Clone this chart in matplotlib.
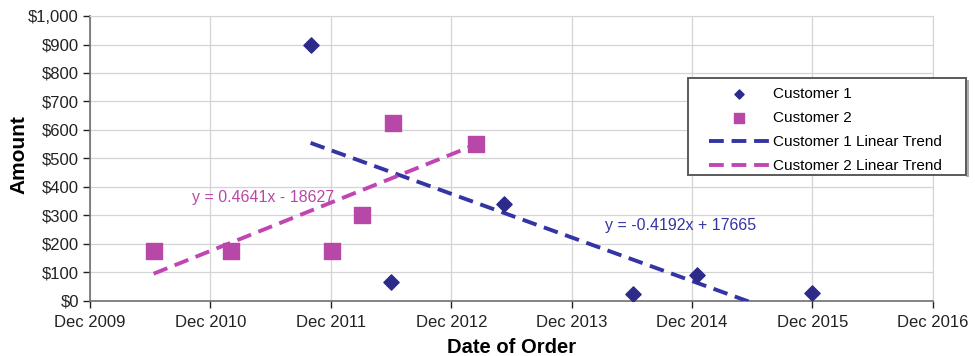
import datetime as dt
import matplotlib
matplotlib.use("Agg")
import matplotlib.pyplot as plt
import matplotlib.dates as mdates
from matplotlib.ticker import FuncFormatter
from matplotlib.patches import Rectangle

plt.rcParams['font.family'] = ['Liberation Sans', 'DejaVu Sans']

# Order dates and amounts
c1_dates = ["2011-10-01", "2012-06-01", "2013-05-10", "2014-06-05", "2014-12-15", "2015-12-01"]
c1_amounts = [900, 65, 340, 25, 90, 28]
c2_dates = ["2010-06-12", "2011-02-01", "2011-12-05", "2012-03-05", "2012-06-08", "2013-02-15"]
c2_amounts = [175, 175, 175, 300, 625, 550]

# Linear trend coefficients (x = spreadsheet date serial)
c1_slope, c1_intercept = -0.4192, 17665
c2_slope, c2_intercept = 0.4641, -18627

tick_years = [2009, 2010, 2011, 2012, 2013, 2014, 2015, 2016]
y_ticks = [0, 100, 200, 300, 400, 500, 600, 700, 800, 900, 1000]

EXCEL_OFFSET = 25569  # days between 1899-12-30 and 1970-01-01


def to_num(s):
    return mdates.date2num(dt.datetime.strptime(s, "%Y-%m-%d"))


c1_x = [to_num(d) for d in c1_dates]
c2_x = [to_num(d) for d in c2_dates]


def trend(xs, slope, intercept):
    return [slope * (x + EXCEL_OFFSET) + intercept for x in xs]


fig = plt.figure(figsize=(9.75, 3.56), dpi=100)
ax = fig.add_axes([0.0923, 0.155, 0.8647, 0.800])

c1_col = "#2e2a8a"
c2_col = "#b848a8"
c1_line = "#3434a4"
c2_line = "#c046b4"

ax.scatter(c1_x, c1_amounts, marker="D", s=60, color=c1_col, zorder=4, label="Customer 1")
ax.scatter(c2_x, c2_amounts, marker="s", s=135, color=c2_col, zorder=4, label="Customer 2")

t1x = [min(c1_x), max(c1_x)]
t2x = [min(c2_x), max(c2_x)]
ax.plot(t1x, trend(t1x, c1_slope, c1_intercept), color=c1_line, lw=2.8,
        dashes=(3.8, 2), zorder=3, label="Customer 1 Linear Trend")
ax.plot(t2x, trend(t2x, c2_slope, c2_intercept), color=c2_line, lw=2.8,
        dashes=(3.8, 2), zorder=3, label="Customer 2 Linear Trend")

ax.text(to_num("2011-05-10"), 362, "y = 0.4641x - 18627", color=c2_col,
        fontsize=11.5, ha="center", va="center", zorder=5)
ax.text(to_num("2014-10-28"), 263, "y = -0.4192x + 17665", color=c1_line,
        fontsize=11.5, ha="center", va="center", zorder=5)

xticks = [mdates.date2num(dt.datetime(y, 12, 1)) for y in tick_years]
ax.set_xlim(xticks[0], xticks[-1])
ax.set_ylim(0, 1000)
ax.set_xticks(xticks)
ax.set_xticklabels([f"Dec {y}" for y in tick_years])
ax.set_yticks(y_ticks)
ax.yaxis.set_major_formatter(FuncFormatter(lambda v, p: f"${v:,.0f}"))

ax.grid(True, color="#d4d4d4", lw=0.9, zorder=0)
ax.set_axisbelow(True)
for side in ("top", "right"):
    ax.spines[side].set_color("#d4d4d4")
for side in ("left", "bottom"):
    ax.spines[side].set_color("#707070")
    ax.spines[side].set_linewidth(1.2)
ax.tick_params(axis="both", labelsize=12, colors="#222222", direction="out",
               length=5, width=1)
ax.tick_params(axis="x", pad=5)
ax.tick_params(axis="y", pad=3)

ax.set_ylabel("Amount", fontsize=15, fontweight="bold")
ax.yaxis.set_label_coords(-0.0735, 0.515)
ax.set_xlabel("Date of Order", fontsize=14.5, fontweight="bold", labelpad=6)

# Legend box drawn in figure pixels, entries placed inside it
W, H = 975, 356
shadow = Rectangle((966 / W, 1 - 177 / H), 3 / W, (177 - 80) / H,
                   transform=fig.transFigure, facecolor="#b0b0b0",
                   edgecolor="none", zorder=6, clip_on=False)
ax.add_artist(shadow)
box = Rectangle((688 / W, 1 - 175 / H), (966 - 688) / W, (175 - 78) / H,
                transform=fig.transFigure, facecolor="white",
                edgecolor="#5a5a5a", lw=1.4, zorder=6, clip_on=False)
ax.add_artist(box)

leg = ax.legend(loc="upper left", bbox_to_anchor=(706 / W, 1 - 84 / H),
                bbox_transform=fig.transFigure, borderaxespad=0,
                fontsize=11, handlelength=3.9, frameon=False,
                borderpad=0.2, labelspacing=0.65,
                handletextpad=0.3, scatterpoints=1, markerscale=0.6)
leg.set_zorder(7)

fig.savefig("out.png", dpi=100)
